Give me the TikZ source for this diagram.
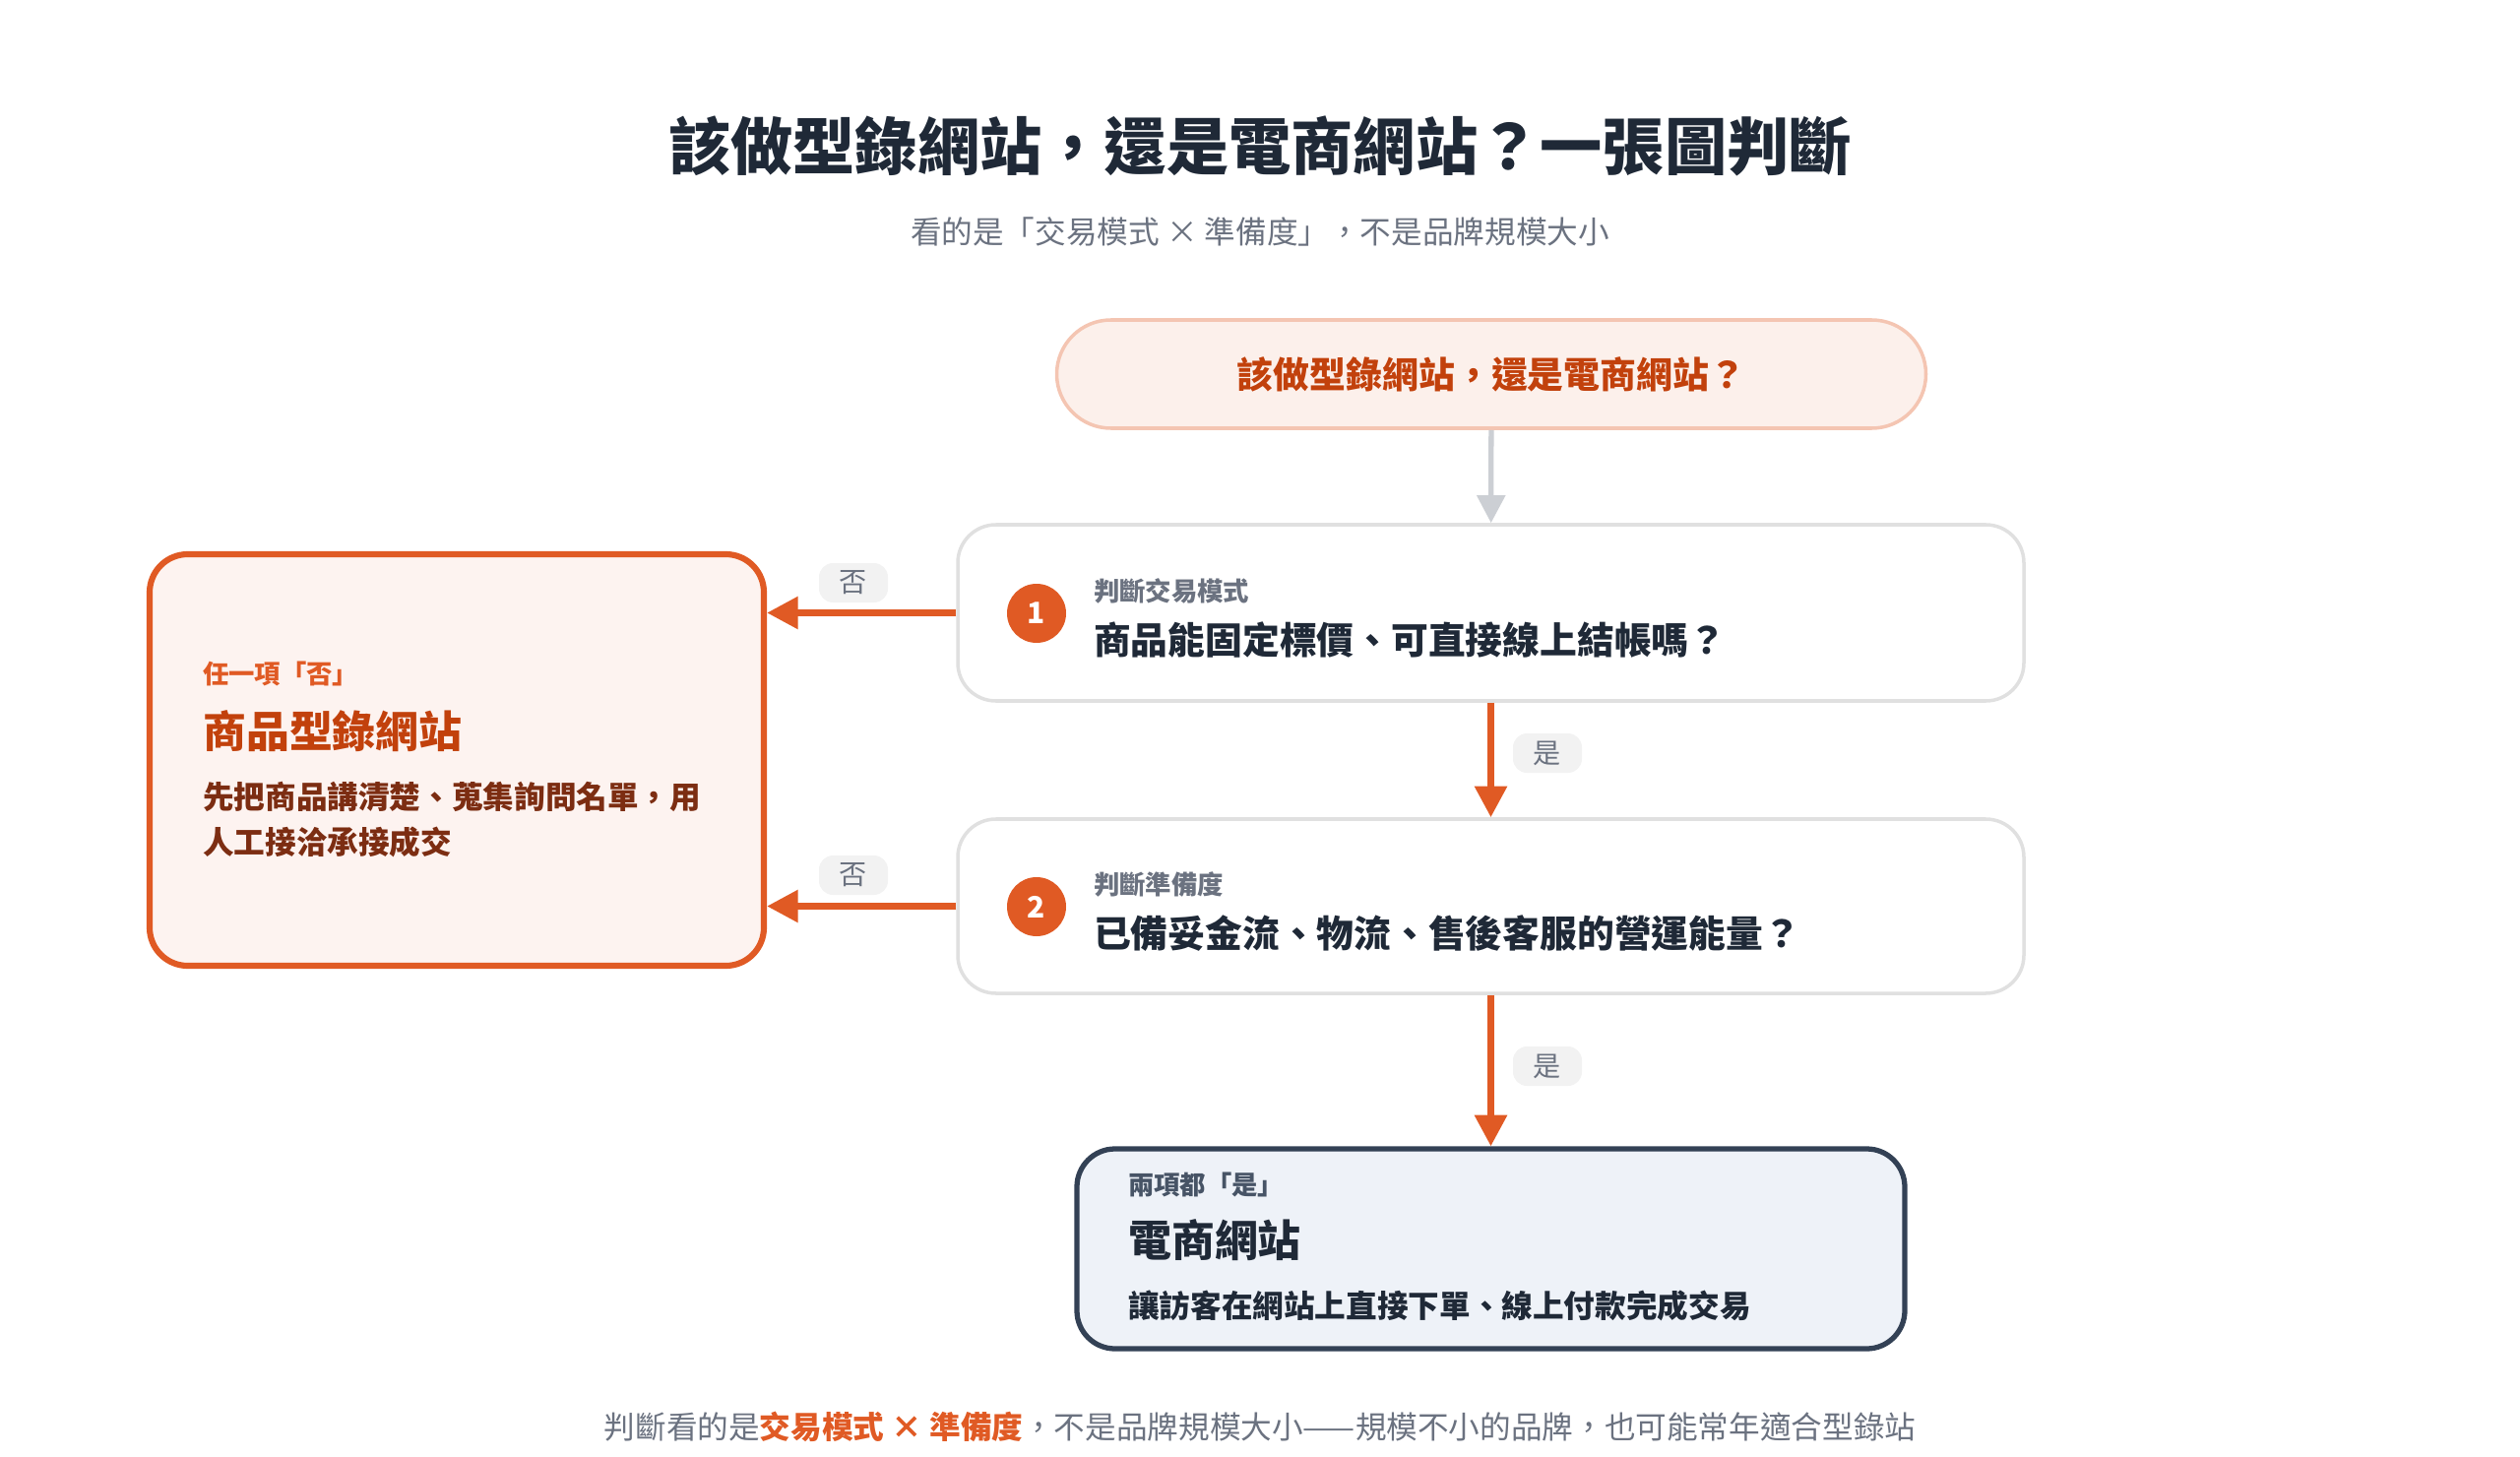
\documentclass[tikz,border=0pt]{standalone}
\usepackage{fontspec}
\setmainfont{Noto Sans CJK TC}
\usetikzlibrary{arrows.meta}
\definecolor{org}{HTML}{E05A24}
\definecolor{orgd}{HTML}{C2410C}
\definecolor{brn}{HTML}{7C2D12}
\definecolor{ink}{HTML}{1F2937}
\definecolor{gry}{HTML}{6B7280}
\definecolor{slate}{HTML}{334155}
\definecolor{ecfill}{HTML}{EEF2F8}
\tikzset{
 card/.style={draw=black!12,line width=2pt,fill=white,rounded corners=22pt},
 num/.style={circle,fill=org,minimum size=60*0.02cm,inner sep=0,text=white,font=\fontsize{17}{17}\selectfont\bfseries},
 small/.style={anchor=west,text=gry,font=\fontsize{15}{15}\selectfont\bfseries},
 main/.style={anchor=west,text=ink,font=\fontsize{21.5}{21.5}\selectfont\bfseries},
 oarrow/.style={draw=org,line width=4pt,-{Triangle[length=18pt,width=18pt]}},
 tag/.style={fill=black!5,rounded corners=8pt,text=gry,minimum width=70*0.02cm,minimum height=40*0.02cm,font=\fontsize{16}{16}\selectfont},
}
\begin{document}
\begin{tikzpicture}[x=0.02cm,y=-0.02cm]
\useasboundingbox (0,0) rectangle (2560,1480);
\node (title) at (1280,148) {\fontsize{36}{36}\selectfont\bfseries\color{ink}該做型錄網站，還是電商網站？一張圖判斷};
\node (sub) at (1280,235) {\fontsize{18}{18}\selectfont\color{gry}看的是「交易模式 × 準備度」，不是品牌規模大小};
\node[draw=org!35,fill=org!9,line width=2pt,rounded corners=55*0.02cm,minimum width=883*0.02cm,minimum height=110*0.02cm,text=orgd,font=\fontsize{21}{21}\selectfont\bfseries] (start) at (1515,380) {該做型錄網站，還是電商網站？};
\node[card,minimum width=1083*0.02cm,minimum height=179*0.02cm] (q1) at (1514.5,622.5) {};
\node[num] (n1) at (1053,623) {1};
\node[small] (l1) at (1105,600) {判斷交易模式};
\node[main] (m1) at (1105,650) {商品能固定標價、可直接線上結帳嗎？};
\node[card,minimum width=1083*0.02cm,minimum height=177*0.02cm] (q2) at (1514.5,920.5) {};
\node[num] (n2) at (1053,921) {2};
\node[small] (l2) at (1105,898) {判斷準備度};
\node[main] (m2) at (1105,948) {已備妥金流、物流、售後客服的營運能量？};
\node[draw=slate,line width=3pt,fill=ecfill,rounded corners=22pt,minimum width=841*0.02cm,minimum height=203*0.02cm] (ec) at (1514.5,1268.5) {};
\node[anchor=west,text=slate!90,font=\fontsize{15}{15}\selectfont\bfseries] (ec1) at (1140,1204) {兩項都「是」};
\node[anchor=west,text=ink,font=\fontsize{25}{25}\selectfont\bfseries] (ec2) at (1140,1260) {電商網站};
\node[anchor=west,text=ink,font=\fontsize{18}{18}\selectfont\bfseries] (ec3) at (1140,1326) {讓訪客在網站上直接下單、線上付款完成交易};
\node[draw=org,line width=3.5pt,fill=org!7,rounded corners=22pt,minimum width=624*0.02cm,minimum height=418*0.02cm] (cat) at (464,772) {};
\node[anchor=west,text=org,font=\fontsize{15}{15}\selectfont\bfseries] (c1) at (200,684) {任一項「否」};
\node[anchor=west,text=orgd,font=\fontsize{25}{25}\selectfont\bfseries] (c2) at (200,743) {商品型錄網站};
\node[anchor=west,text=brn,font=\fontsize{18}{18}\selectfont\bfseries] (c3) at (200,809) {先把商品講清楚、蒐集詢問名單，用};
\node[anchor=west,text=brn,font=\fontsize{18}{18}\selectfont\bfseries] (c4) at (200,855) {人工接洽承接成交};
\draw[draw=slate!25,line width=3pt,-{Triangle[length=16pt,width=16pt]}] (start) -- (q1);
\draw[oarrow] (q1) -- (q2);
\draw[oarrow] (q2) -- (ec);
\draw[oarrow] (q1.west) -- (cat.east |- q1.west);
\draw[oarrow] (q2.west) -- (cat.east |- q2.west);
\node[tag] (y1) at (1572,765) {是};
\node[tag] (y2) at (1572,1083) {是};
\node[tag] (no1) at (867,592) {否};
\node[tag] (no2) at (867,889) {否};
\node (foot) at (1280,1449) {\fontsize{18}{18}\selectfont\color{gry}判斷看的是{\color{org}\bfseries 交易模式 × 準備度}，不是品牌規模大小——規模不小的品牌，也可能常年適合型錄站};
\end{tikzpicture}
\end{document}
